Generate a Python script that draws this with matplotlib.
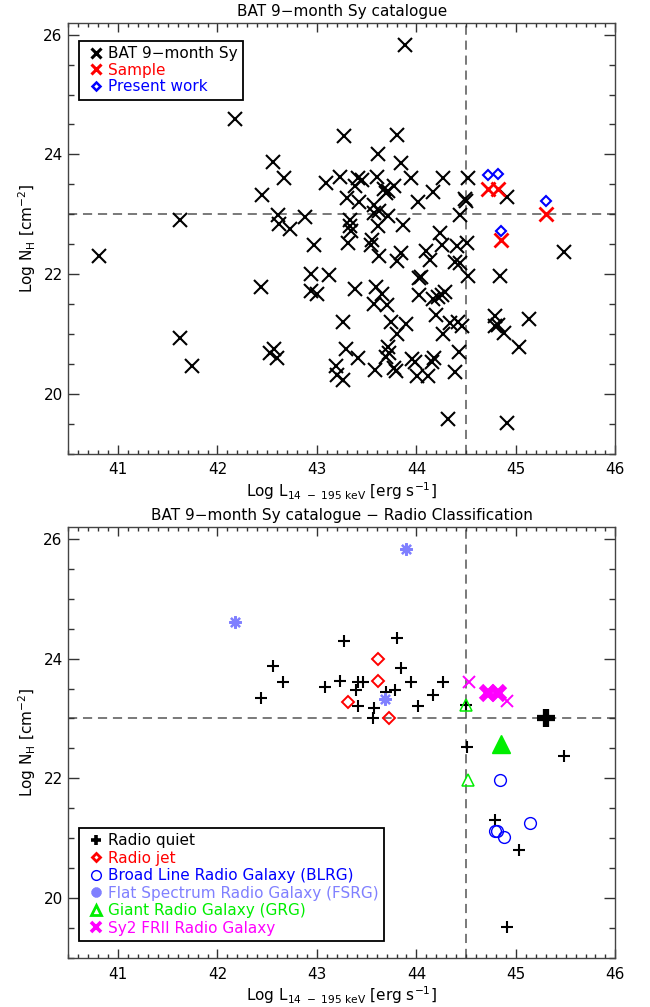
import matplotlib
matplotlib.use('Agg')
import matplotlib.pyplot as plt
from matplotlib.lines import Line2D
from matplotlib.ticker import MultipleLocator

plt.rcParams['font.family'] = ['DejaVu Sans']
plt.rcParams['mathtext.fontset'] = 'dejavusans'

# ---------------- data: top panel ----------------
bat_L = [43.89, 42.18, 43.27, 43.80, 43.61, 42.56, 43.85, 42.67, 43.09, 43.23,
         43.38, 43.41, 43.45, 43.60, 43.95, 44.27, 44.52, 42.45, 43.30, 43.42,
         43.67, 43.69, 43.71, 43.77, 44.02, 44.17, 44.49, 44.50, 44.91, 43.57,
         43.57, 43.62, 43.71, 42.61, 42.88, 44.44, 42.62, 42.73, 43.33, 43.33,
         43.34, 43.87, 43.61, 44.24, 42.97, 43.31, 43.55, 43.54, 44.41, 44.51,
         44.26, 45.48, 41.62,
         40.81, 43.62, 43.80, 43.85, 44.10, 44.14, 44.39, 44.44, 44.52, 44.84,
         42.94, 43.12, 42.44, 42.94, 43.00, 43.38, 43.59, 43.65, 43.57, 43.70,
         44.03, 44.05, 44.03, 44.17, 44.22, 44.26, 44.29, 44.20, 44.34, 44.42,
         44.46, 44.27, 43.26, 43.74, 43.90, 43.80, 44.79, 44.79, 44.82, 44.88,
         45.13, 45.03, 41.62, 41.74, 42.57, 42.53, 42.60, 43.29, 43.41, 43.19,
         43.20, 43.26, 43.58, 43.71, 43.69, 43.72, 43.77, 43.79, 43.96, 43.99,
         44.01, 44.12, 44.16, 44.18, 44.43, 44.39, 44.32, 44.91]
bat_NH = [25.82, 24.60, 24.31, 24.33, 24.00, 23.87, 23.85, 23.60, 23.52, 23.63,
          23.48, 23.60, 23.58, 23.63, 23.60, 23.60, 23.60, 23.33, 23.28, 23.20,
          23.42, 23.36, 23.39, 23.48, 23.20, 23.37, 23.26, 23.22, 23.29, 23.16,
          23.02, 23.05, 22.97, 22.99, 22.95, 22.99, 22.84, 22.75, 22.91, 22.80,
          22.72, 22.83, 22.80, 22.69, 22.48, 22.52, 22.57, 22.49, 22.47, 22.52,
          22.49, 22.37, 22.91,
          22.31, 22.30, 22.22, 22.35, 22.38, 22.24, 22.21, 22.18, 21.97, 21.97,
          22.00, 21.98, 21.79, 21.72, 21.67, 21.75, 21.78, 21.67, 21.50, 21.49,
          21.93, 21.96, 21.65, 21.58, 21.62, 21.66, 21.70, 21.32, 21.19, 21.20,
          21.14, 21.00, 21.20, 21.21, 21.17, 21.00, 21.30, 21.14, 21.16, 21.02,
          21.25, 20.79, 20.93, 20.47, 20.76, 20.68, 20.61, 20.75, 20.61, 20.46,
          20.31, 20.24, 20.40, 20.78, 20.62, 20.68, 20.43, 20.39, 20.58, 20.53,
          20.30, 20.30, 20.54, 20.60, 20.70, 20.36, 19.58, 19.52]

sample_L = [44.72, 44.82, 44.85, 45.30]
sample_NH = [23.43, 23.43, 22.58, 23.00]
present_L = [44.72, 44.82, 44.85, 45.30]
present_NH = [23.65, 23.67, 22.73, 23.22]

# ---------------- data: bottom panel ----------------
rq_L = [43.27, 43.80, 42.56, 43.85, 42.66, 43.08, 43.23, 43.41, 43.46, 43.39,
        43.69, 43.78, 43.95, 44.27, 44.17, 44.02, 42.44, 43.41, 43.57, 43.56,
        44.50, 44.51, 45.48, 44.79, 45.03, 44.91]
rq_NH = [24.30, 24.34, 23.88, 23.84, 23.61, 23.52, 23.63, 23.61, 23.61, 23.48,
         23.45, 23.47, 23.61, 23.61, 23.39, 23.21, 23.34, 23.21, 23.18, 23.00,
         23.22, 22.53, 22.37, 21.31, 20.81, 19.52]
rq_big_L = [45.30]
rq_big_NH = [23.00]
jet_L = [43.61, 43.61, 43.31, 43.72]
jet_NH = [24.00, 23.63, 23.28, 23.00]
blrg_L = [44.84, 44.79, 44.81, 44.88, 45.14]
blrg_NH = [21.98, 21.13, 21.12, 21.03, 21.25]
fsrg_L = [43.90, 42.18, 43.68]
fsrg_NH = [25.82, 24.61, 23.33]
grg_L = [44.50, 44.52]
grg_NH = [23.23, 21.97]
grg_big_L = [44.85]
grg_big_NH = [22.58]
fr2_L = [44.53, 44.91]
fr2_NH = [23.61, 23.29]
fr2_big_L = [44.72, 44.82]
fr2_big_NH = [23.43, 23.43]

xticks = [41, 42, 43, 44, 45, 46]
yticks = [20, 22, 24, 26]

FS = 11
RED = '#ff0000'
BLUE = '#0000ff'
LBLUE = '#8080ff'
GREEN = '#00ee00'
MAG = '#ff00ff'
ASTER = (8, 2, 0)

fig = plt.figure(figsize=(6.5, 10.07), dpi=100)
ax1 = fig.add_axes([0.105, 0.5492, 0.8417, 0.4283])
ax2 = fig.add_axes([0.105, 0.0484, 0.8417, 0.4286])


def style(ax, title):
    ax.set_xlim(40.5, 46)
    ax.set_ylim(19, 26.2)
    ax.set_xticks(xticks)
    ax.set_yticks(yticks)
    ax.xaxis.set_minor_locator(MultipleLocator(0.1))
    ax.yaxis.set_minor_locator(MultipleLocator(0.5))
    ax.tick_params(which='both', direction='in', top=True, right=True,
                   labelsize=FS, color='#333333', width=1.0)
    ax.tick_params(axis='x', which='major', length=6.5, pad=6)
    ax.tick_params(axis='x', which='minor', length=3.2)
    ax.tick_params(axis='y', which='major', length=8, pad=4)
    ax.tick_params(axis='y', which='minor', length=4.5)
    for s in ax.spines.values():
        s.set_color('#444444')
        s.set_linewidth(1.0)
    ax.axhline(23.0, color='#555555', lw=1.1, dashes=(6, 3.8), zorder=1)
    ax.axvline(44.5, color='#555555', lw=1.1, dashes=(6, 3.8), zorder=1)
    ax.set_xlabel(r'Log L$_{14\ -\ 195\ \mathrm{keV}}$ [erg s$^{-1}$]',
                  fontsize=FS, labelpad=2)
    ax.set_ylabel(r'Log N$_\mathrm{H}$ [cm$^{-2}$]', fontsize=FS, labelpad=4)
    ax.set_title(title, fontsize=FS, pad=5)


# ---- top panel ----
style(ax1, 'BAT 9\u2212month Sy catalogue')
ax1.plot(bat_L, bat_NH, ls='none', marker='x', color='k', ms=9.5, mew=1.5, zorder=3)
ax1.plot(sample_L, sample_NH, ls='none', marker='x', color=RED, ms=9.5, mew=2.0, zorder=4)
ax1.plot(present_L, present_NH, ls='none', marker='D', mfc='none', mec=BLUE,
         ms=5.5, mew=1.5, zorder=5)

h1 = [Line2D([], [], ls='none', marker='x', color='k', ms=6.5, mew=2.2),
      Line2D([], [], ls='none', marker='x', color=RED, ms=6.5, mew=2.2),
      Line2D([], [], ls='none', marker='D', mfc='none', mec=BLUE, ms=4.2, mew=1.8)]
leg1 = ax1.legend(h1, ['BAT 9\u2212month Sy', 'Sample', 'Present work'],
                  loc='upper left', bbox_to_anchor=(0.02, 0.958), borderaxespad=0,
                  fontsize=FS, frameon=True, fancybox=False, framealpha=1,
                  edgecolor='k', borderpad=0.35, handlelength=1.5,
                  handletextpad=0.05, labelspacing=0.1)
leg1.get_frame().set_linewidth(1.3)
for t, c in zip(leg1.get_texts(), ['k', RED, BLUE]):
    t.set_color(c)

# ---- bottom panel ----
style(ax2, 'BAT 9\u2212month Sy catalogue \u2212 Radio Classification')
ax2.plot(rq_L, rq_NH, ls='none', marker='+', color='k', ms=8.5, mew=1.5, zorder=3)
ax2.plot(rq_big_L, rq_big_NH, ls='none', marker='+', color='k', ms=13, mew=4.5, zorder=3)
ax2.plot(jet_L, jet_NH, ls='none', marker='D', mfc='none', mec=RED, ms=6, mew=1.4, zorder=4)
ax2.plot(blrg_L, blrg_NH, ls='none', marker='o', mfc='none', mec=BLUE, ms=8.5, mew=1.0, zorder=4)
ax2.plot(fsrg_L, fsrg_NH, ls='none', marker=ASTER, color=LBLUE, ms=9, mew=1.6, zorder=4)
ax2.plot(grg_L, grg_NH, ls='none', marker='^', mfc='none', mec=GREEN, ms=8.5, mew=1.1, zorder=4)
ax2.plot(grg_big_L, grg_big_NH, ls='none', marker='^', color=GREEN, ms=13, zorder=4)
ax2.plot(fr2_L, fr2_NH, ls='none', marker='x', color=MAG, ms=9, mew=1.4, zorder=4)
ax2.plot(fr2_big_L, fr2_big_NH, ls='none', marker='x', color=MAG, ms=10, mew=4.5, zorder=4)

h2 = [Line2D([], [], ls='none', marker='+', color='k', ms=7, mew=2.6),
      Line2D([], [], ls='none', marker='D', mfc='none', mec=RED, ms=4.5, mew=2.0),
      Line2D([], [], ls='none', marker='o', mfc='none', mec=BLUE, ms=7, mew=1.0),
      Line2D([], [], ls='none', marker=ASTER, color=LBLUE, ms=7, mew=2.6),
      Line2D([], [], ls='none', marker='^', mfc='none', mec=GREEN, ms=7, mew=2.0),
      Line2D([], [], ls='none', marker='x', color=MAG, ms=6.5, mew=2.6)]
labels2 = ['Radio quiet', 'Radio jet', 'Broad Line Radio Galaxy (BLRG)',
           'Flat Spectrum Radio Galaxy (FSRG)', 'Giant Radio Galaxy (GRG)',
           'Sy2 FRII Radio Galaxy']
leg2 = ax2.legend(h2, labels2, loc='lower left', bbox_to_anchor=(0.02, 0.041),
                  borderaxespad=0, fontsize=FS, frameon=True, fancybox=False,
                  framealpha=1, edgecolor='k', borderpad=0.33, handlelength=1.5,
                  handletextpad=0.05, labelspacing=0.16)
leg2.get_frame().set_linewidth(1.3)
for t, c in zip(leg2.get_texts(), ['k', RED, BLUE, LBLUE, GREEN, MAG]):
    t.set_color(c)

fig.savefig('out.png', dpi=100)
